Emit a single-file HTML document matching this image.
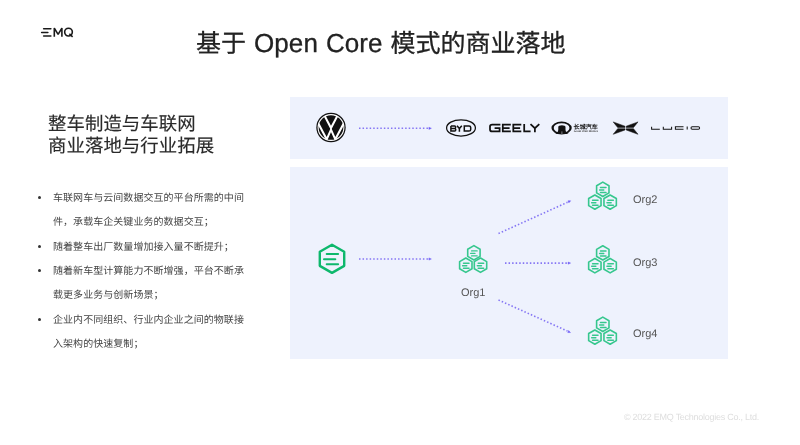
<!DOCTYPE html>
<html lang="zh-CN"><head><meta charset="utf-8">
<style>
html,body{margin:0;padding:0;}
body{width:800px;height:445px;position:relative;overflow:hidden;background:#fff;text-rendering:geometricPrecision;font-family:"Liberation Sans",sans-serif;color:#333;}
.a{position:absolute;white-space:nowrap;will-change:transform;}
.lat{font-size:26px;letter-spacing:0.05px;word-spacing:0.8px;position:relative;top:-0.5px;}
#title{left:196px;top:27.5px;font-size:25px;line-height:30px;color:#222;-webkit-text-stroke:0.3px #222;}
#sub{left:48px;top:113px;font-size:18.4px;letter-spacing:0.07px;line-height:22px;color:#2a2a2a;-webkit-text-stroke:0.15px #2a2a2a;}
.bl{left:53px;font-size:10px;letter-spacing:0.05px;line-height:14px;color:#444;}
.dot{position:absolute;left:38px;width:3px;height:3px;border-radius:50%;background:#333;margin-top:-0.5px;}
.p{position:absolute;left:290px;width:438px;background:#eef2fd;}
.org{font-size:11px;color:#555;line-height:13px;}
#foot{left:623.5px;top:410.5px;font-size:9px;letter-spacing:-0.26px;color:#dedede;line-height:12px;}
</style></head><body>
<!-- EMQ logo -->
<svg class="a" style="left:0;top:0" width="120" height="50">
  <g stroke="#1a1a1a" stroke-width="1.5" stroke-linecap="round" fill="none">
    <line x1="43.6" y1="28.75" x2="50.9" y2="28.75"/>
    <line x1="41.6" y1="32.4" x2="47.9" y2="32.4"/>
    <line x1="43.6" y1="36" x2="50.9" y2="36"/>
  </g>
  <g stroke="#1a1a1a" stroke-width="1.6" fill="none" stroke-linejoin="miter">
    <path d="M54.3,36.8 L54.3,28.1 L58.1,34.3 L61.9,28.1 L61.9,36.8" stroke-linejoin="bevel"/>
    <ellipse cx="68.5" cy="32.1" rx="3.85" ry="3.9"/>
    <path d="M69.4,33.8 L72.6,36.9"/>
  </g>
</svg>
<div id="title" class="a">基于<span class="lat"> Open Core </span>模式的商业落地</div>
<div id="sub" class="a">整车制造与车联网<br>商业落地与行业拓展</div>

<div class="dot" style="top:196px"></div>
<div class="a bl" style="top:192px">车联网车与云间数据交互的平台所需的中间</div>
<div class="a bl" style="top:216px">件，承载车企关键业务的数据交互；</div>
<div class="dot" style="top:245px"></div>
<div class="a bl" style="top:241px">随着整车出厂数量增加接入量不断提升；</div>
<div class="dot" style="top:269px"></div>
<div class="a bl" style="top:265px">随着新车型计算能力不断增强，平台不断承</div>
<div class="a bl" style="top:289px">载更多业务与创新场景；</div>
<div class="dot" style="top:318px"></div>
<div class="a bl" style="top:314px">企业内不同组织、行业内企业之间的物联接</div>
<div class="a bl" style="top:338px">入架构的快速复制；</div>

<div class="p" style="top:97px;height:62px"></div>
<div class="p" style="top:167px;height:192px"></div>

<svg class="a" style="left:0;top:0" width="800" height="445">
  <defs>
    
    
    <clipPath id="vwc"><circle r="13.2"/></clipPath>
  </defs>
  <!-- VW -->
  <g transform="translate(331,127.5)">
    <circle r="14.7" fill="#111"/>
    <circle r="12.9" fill="none" stroke="#fff" stroke-width="1.1"/>
    <g clip-path="url(#vwc)" fill="none" stroke="#fff" stroke-width="2.05" stroke-linejoin="miter" stroke-miterlimit="10">
      <path d="M-7.6,-14 L0,0.5 L7.6,-14"/>
      <path d="M-14.5,-7.5 L-4.3,11.8 L0,2.2 L4.3,11.8 L14.5,-7.5"/>
    </g>
  </g>
  <g stroke="#8576f4" stroke-width="1.6" stroke-dasharray="1.5 2.05" fill="none">
    <line x1="359" y1="128.3" x2="428.5" y2="128.3"/>
    <line x1="359" y1="259" x2="428.5" y2="259"/>
    <line x1="505" y1="263.1" x2="567.5" y2="263.1"/>
    <line x1="498.5" y1="233.5" x2="567.5" y2="202.3"/>
    <line x1="498.5" y1="300" x2="567.5" y2="331.1"/>
  </g>
  <g fill="#6a58f5" stroke="#6a58f5" stroke-width="0.4" stroke-linejoin="round">
    <polygon points="-1.1,-1.1 1.4,0 -1.1,1.1" transform="translate(430,128.3)"/>
    <polygon points="-1.1,-1.1 1.4,0 -1.1,1.1" transform="translate(430,259)"/>
    <polygon points="-1.1,-1.1 1.4,0 -1.1,1.1" transform="translate(569.2,263.1)"/>
    <polygon points="-1.1,-1.1 1.4,0 -1.1,1.1" transform="translate(569.4,201.4) rotate(-24.3)"/>
    <polygon points="-1.1,-1.1 1.4,0 -1.1,1.1" transform="translate(569.2,332) rotate(24.2)"/>
  </g>
  <!-- BYD -->
  <ellipse cx="461" cy="127.9" rx="14.4" ry="8.15" fill="none" stroke="#111" stroke-width="1.25"/>
  <g fill="none" stroke="#111" stroke-width="1.5" stroke-linejoin="miter">
    <path d="M450.9,125.9 L454.7,125.9 Q455.6,125.9 455.6,126.9 L455.6,127.5 Q455.6,128.5 454.6,128.5 L450.9,128.5 M454.6,128.5 Q455.7,128.5 455.7,129.5 L455.7,130.1 Q455.7,131.1 454.7,131.1 L450.9,131.1 L450.9,125.9"/>
    <path d="M457,125.8 L459.4,128.6 L461.8,125.8 M459.4,128.6 L459.4,131.8"/>
    <path d="M464.3,125.9 L469,125.9 Q470.7,125.9 470.7,127.6 L470.7,129.4 Q470.7,131.1 469,131.1 L464.3,131.1 Z"/>
  </g>
  <!-- GEELY -->
  <g fill="none" stroke="#111" stroke-width="1.75" stroke-linejoin="miter">
    <path d="M500.4,124.5 L492.2,124.5 Q490,124.5 490,126.5 L490,129.4 Q490,131.4 492.2,131.4 L499.6,131.4 L499.6,128 L494.6,128"/>
    <path d="M510.8,124.5 L502.8,124.5 L502.8,131.4 L510.8,131.4 M502.8,128 L509.6,128"/>
    <path d="M521.3,124.5 L513.3,124.5 L513.3,131.4 L521.3,131.4 M513.3,128 L520.1,128"/>
    <path d="M524.2,124 L524.2,131.4 L530.6,131.4"/>
    <path d="M530.5,124.1 L534.9,128.2 L539.3,124.1 M534.9,128.2 L534.9,132.2"/>
  </g>
  <!-- Great Wall -->
  <path fill="#111" fill-rule="evenodd" d="M551.45,128 A10.15,6.5 0 1,0 571.75,128 A10.15,6.5 0 1,0 551.45,128 Z M553.7,128 A7.9,4.85 0 1,0 569.5,128 A7.9,4.85 0 1,0 553.7,128 Z"/>
  <path d="M555,133.9 Q558.2,132.8 558.3,129.5 L558.3,127 Q558.3,125.2 561.9,125.2 Q565.5,125.2 565.5,127 L565.5,129.5 Q565.6,132.8 568.6,133.9 Z" fill="#111"/>
  <line x1="561.9" y1="131.4" x2="561.9" y2="134" stroke="#eef2fd" stroke-width="0.5"/>
  <text x="573.6" y="128.8" font-size="6" fill="#111" font-weight="bold" textLength="24.2" lengthAdjust="spacingAndGlyphs">长城汽车</text>
  <text x="573.8" y="132.2" font-size="2.6" font-weight="bold" fill="#444" textLength="24.4" lengthAdjust="spacingAndGlyphs">Great Wall Motors</text>
  <!-- XPeng -->
  <g transform="translate(625.6,128.1)" fill="#111" stroke="#111" stroke-width="0.5" stroke-linejoin="round">
    <path d="M-12.4,-6.2 L-0.6,-1.9 L-0.6,-0.55 L-7.9,-0.55 Z"/>
    <path d="M12.4,-6.2 L0.6,-1.9 L0.6,-0.55 L7.9,-0.55 Z"/>
    <path d="M-12.4,6.2 L-0.6,1.9 L-0.6,0.55 L-7.9,0.55 Z"/>
    <path d="M12.4,6.2 L0.6,1.9 L0.6,0.55 L7.9,0.55 Z"/>
  </g>
  <!-- LUCID -->
  <g stroke="#151515" stroke-width="1.05" fill="none">
    <path d="M651.6,126.8 L651.6,129.2 L659.8,129.2"/>
    <path d="M663.3,126.8 L663.3,129.2 L671.6,129.2 L671.6,126.8"/>
    <path d="M683.5,126.8 L675.4,126.8 L675.4,129.2 L683.5,129.2"/>
    <path d="M687.2,126.6 L687.2,129.4"/>
    <rect x="691" y="126.8" width="8.6" height="2.4" rx="1.2"/>
  </g>
  <!-- EMQX -->
  <g transform="translate(332,258.8)">
    <polygon points="0,-14.1 12.21,-7.05 12.21,7.05 0,14.1 -12.21,7.05 -12.21,-7.05" fill="none" stroke="#0db86c" stroke-width="2.4" stroke-linejoin="round"/>
    <g stroke="#0db86c" stroke-width="2.05" stroke-linecap="round">
      <line x1="-5.3" y1="-4.7" x2="6.1" y2="-4.7"/>
      <line x1="-8" y1="0.4" x2="3.3" y2="0.4"/>
      <line x1="-5.3" y1="5.4" x2="6.1" y2="5.4"/>
    </g>
  </g>
  <g transform="translate(473.15,258.9)"><g transform="translate(0.75,-6.1)"><polygon points="0,-7.15 6.19,-3.575 6.19,3.575 0,7.15 -6.19,3.575 -6.19,-3.575" fill="none" stroke="#36c78e" stroke-width="1.6" stroke-linejoin="round"/>
      <g stroke="#36c78e" stroke-width="1.45" stroke-linecap="round">
        <line x1="-2.3" y1="-1.9" x2="3.2" y2="-1.9"/>
        <line x1="-3.2" y1="0.6" x2="1" y2="0.6"/>
        <line x1="-2.3" y1="3.1" x2="3.2" y2="3.1"/>
      </g></g><g transform="translate(-7.35,6.3)"><polygon points="0,-7.15 6.19,-3.575 6.19,3.575 0,7.15 -6.19,3.575 -6.19,-3.575" fill="none" stroke="#36c78e" stroke-width="1.6" stroke-linejoin="round"/>
      <g stroke="#36c78e" stroke-width="1.45" stroke-linecap="round">
        <line x1="-2.3" y1="-1.9" x2="3.2" y2="-1.9"/>
        <line x1="-3.2" y1="0.6" x2="1" y2="0.6"/>
        <line x1="-2.3" y1="3.1" x2="3.2" y2="3.1"/>
      </g></g><g transform="translate(7.35,6.3)"><polygon points="0,-7.15 6.19,-3.575 6.19,3.575 0,7.15 -6.19,3.575 -6.19,-3.575" fill="none" stroke="#36c78e" stroke-width="1.6" stroke-linejoin="round"/>
      <g stroke="#36c78e" stroke-width="1.45" stroke-linecap="round">
        <line x1="-2.3" y1="-1.9" x2="3.2" y2="-1.9"/>
        <line x1="-3.2" y1="0.6" x2="1" y2="0.6"/>
        <line x1="-2.3" y1="3.1" x2="3.2" y2="3.1"/>
      </g></g></g>
  <g transform="translate(602.5,195.7)"><g transform="translate(0.3,-6.4)"><polygon points="0,-7.15 6.19,-3.575 6.19,3.575 0,7.15 -6.19,3.575 -6.19,-3.575" fill="none" stroke="#36c78e" stroke-width="1.6" stroke-linejoin="round"/>
      <g stroke="#36c78e" stroke-width="1.45" stroke-linecap="round">
        <line x1="-2.3" y1="-1.9" x2="3.2" y2="-1.9"/>
        <line x1="-3.2" y1="0.6" x2="1" y2="0.6"/>
        <line x1="-2.3" y1="3.1" x2="3.2" y2="3.1"/>
      </g></g><g transform="translate(-7.65,6.4)"><polygon points="0,-7.15 6.19,-3.575 6.19,3.575 0,7.15 -6.19,3.575 -6.19,-3.575" fill="none" stroke="#36c78e" stroke-width="1.6" stroke-linejoin="round"/>
      <g stroke="#36c78e" stroke-width="1.45" stroke-linecap="round">
        <line x1="-2.3" y1="-1.9" x2="3.2" y2="-1.9"/>
        <line x1="-3.2" y1="0.6" x2="1" y2="0.6"/>
        <line x1="-2.3" y1="3.1" x2="3.2" y2="3.1"/>
      </g></g><g transform="translate(7.65,6.4)"><polygon points="0,-7.15 6.19,-3.575 6.19,3.575 0,7.15 -6.19,3.575 -6.19,-3.575" fill="none" stroke="#36c78e" stroke-width="1.6" stroke-linejoin="round"/>
      <g stroke="#36c78e" stroke-width="1.45" stroke-linecap="round">
        <line x1="-2.3" y1="-1.9" x2="3.2" y2="-1.9"/>
        <line x1="-3.2" y1="0.6" x2="1" y2="0.6"/>
        <line x1="-2.3" y1="3.1" x2="3.2" y2="3.1"/>
      </g></g></g>
  <g transform="translate(602.5,259.3)"><g transform="translate(0.3,-6.4)"><polygon points="0,-7.15 6.19,-3.575 6.19,3.575 0,7.15 -6.19,3.575 -6.19,-3.575" fill="none" stroke="#36c78e" stroke-width="1.6" stroke-linejoin="round"/>
      <g stroke="#36c78e" stroke-width="1.45" stroke-linecap="round">
        <line x1="-2.3" y1="-1.9" x2="3.2" y2="-1.9"/>
        <line x1="-3.2" y1="0.6" x2="1" y2="0.6"/>
        <line x1="-2.3" y1="3.1" x2="3.2" y2="3.1"/>
      </g></g><g transform="translate(-7.65,6.4)"><polygon points="0,-7.15 6.19,-3.575 6.19,3.575 0,7.15 -6.19,3.575 -6.19,-3.575" fill="none" stroke="#36c78e" stroke-width="1.6" stroke-linejoin="round"/>
      <g stroke="#36c78e" stroke-width="1.45" stroke-linecap="round">
        <line x1="-2.3" y1="-1.9" x2="3.2" y2="-1.9"/>
        <line x1="-3.2" y1="0.6" x2="1" y2="0.6"/>
        <line x1="-2.3" y1="3.1" x2="3.2" y2="3.1"/>
      </g></g><g transform="translate(7.65,6.4)"><polygon points="0,-7.15 6.19,-3.575 6.19,3.575 0,7.15 -6.19,3.575 -6.19,-3.575" fill="none" stroke="#36c78e" stroke-width="1.6" stroke-linejoin="round"/>
      <g stroke="#36c78e" stroke-width="1.45" stroke-linecap="round">
        <line x1="-2.3" y1="-1.9" x2="3.2" y2="-1.9"/>
        <line x1="-3.2" y1="0.6" x2="1" y2="0.6"/>
        <line x1="-2.3" y1="3.1" x2="3.2" y2="3.1"/>
      </g></g></g>
  <g transform="translate(602.5,330.7)"><g transform="translate(0.3,-6.4)"><polygon points="0,-7.15 6.19,-3.575 6.19,3.575 0,7.15 -6.19,3.575 -6.19,-3.575" fill="none" stroke="#36c78e" stroke-width="1.6" stroke-linejoin="round"/>
      <g stroke="#36c78e" stroke-width="1.45" stroke-linecap="round">
        <line x1="-2.3" y1="-1.9" x2="3.2" y2="-1.9"/>
        <line x1="-3.2" y1="0.6" x2="1" y2="0.6"/>
        <line x1="-2.3" y1="3.1" x2="3.2" y2="3.1"/>
      </g></g><g transform="translate(-7.65,6.4)"><polygon points="0,-7.15 6.19,-3.575 6.19,3.575 0,7.15 -6.19,3.575 -6.19,-3.575" fill="none" stroke="#36c78e" stroke-width="1.6" stroke-linejoin="round"/>
      <g stroke="#36c78e" stroke-width="1.45" stroke-linecap="round">
        <line x1="-2.3" y1="-1.9" x2="3.2" y2="-1.9"/>
        <line x1="-3.2" y1="0.6" x2="1" y2="0.6"/>
        <line x1="-2.3" y1="3.1" x2="3.2" y2="3.1"/>
      </g></g><g transform="translate(7.65,6.4)"><polygon points="0,-7.15 6.19,-3.575 6.19,3.575 0,7.15 -6.19,3.575 -6.19,-3.575" fill="none" stroke="#36c78e" stroke-width="1.6" stroke-linejoin="round"/>
      <g stroke="#36c78e" stroke-width="1.45" stroke-linecap="round">
        <line x1="-2.3" y1="-1.9" x2="3.2" y2="-1.9"/>
        <line x1="-3.2" y1="0.6" x2="1" y2="0.6"/>
        <line x1="-2.3" y1="3.1" x2="3.2" y2="3.1"/>
      </g></g></g>
</svg>
<div class="a org" style="left:461px;top:287px">Org1</div>
<div class="a org" style="left:633px;top:194px">Org2</div>
<div class="a org" style="left:633px;top:257px">Org3</div>
<div class="a org" style="left:633px;top:328px">Org4</div>
<div id="foot" class="a">© 2022 EMQ Technologies Co., Ltd.</div>
</body></html>
